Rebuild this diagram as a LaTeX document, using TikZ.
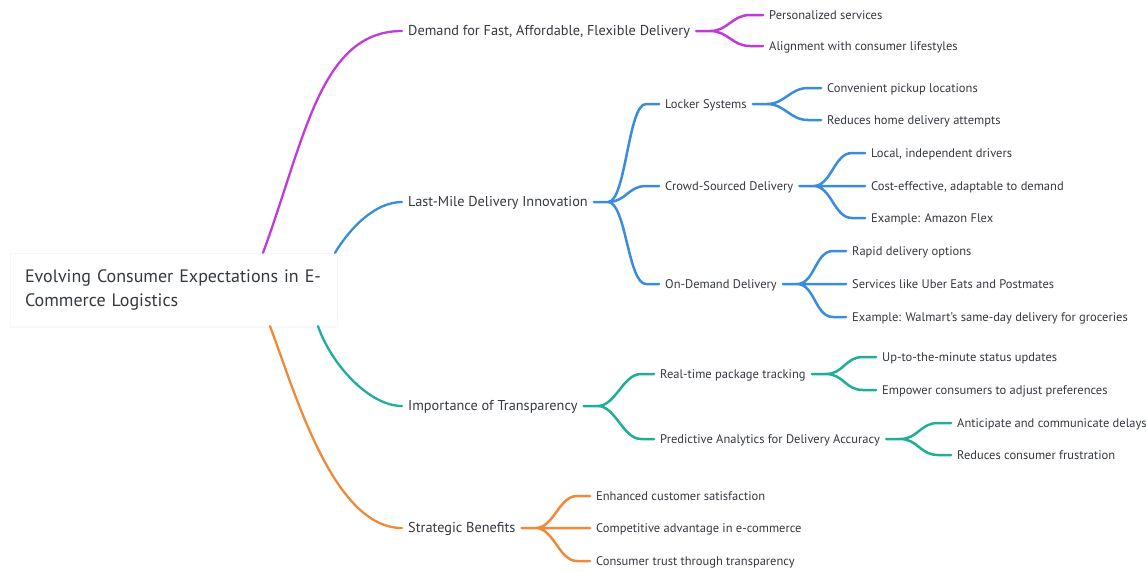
\documentclass[tikz,border=0pt]{standalone}
\usepackage{fontspec}
\setmainfont{PT Sans}
\usepackage{tikz}
\usetikzlibrary{calc,shadows}
\definecolor{mmviolet}{HTML}{C03CDA}
\definecolor{mmblue}{HTML}{3A8CDD}
\definecolor{mmteal}{HTML}{20AE98}
\definecolor{mmorange}{HTML}{EF8A3A}
\definecolor{mmink}{HTML}{353940}

\begin{document}
\begin{tikzpicture}[x=1pt,y=-1pt,
  lvlone/.style={anchor=west,inner xsep=6pt,inner ysep=2pt,text=mmink,
    text height=1em,text depth=0.1em,font=\fontsize{14.3}{17}\selectfont},
  lvltwo/.style={anchor=west,inner xsep=6pt,inner ysep=2pt,text=mmink,
    text height=1em,text depth=0.1em,font=\fontsize{12.5}{15}\selectfont},
  rootlink/.style={line width=2.3pt,line cap=round},
  mmlink/.style={line width=2.5pt,line cap=round,
    to path={-- ++(14,0) .. controls +(18,0) and ($(\tikztotarget)+(-31,0)$)
      .. ($(\tikztotarget)+(-13,0)$) -- (\tikztotarget)}}]
\useasboundingbox (0,0) rectangle (1146,571);
\fill[white] (0,0) rectangle (1146,571);

\node[fill=white,draw=black!3,drop shadow={shadow xshift=0pt,shadow yshift=-2pt,opacity=0.05},
      text width=297pt,inner xsep=15pt,inner ysep=0pt,minimum height=73pt,
      align=left,text=mmink,font=\fontsize{18}{24}\selectfont] (root) at (173.5,289.5)
  {Evolving Consumer Expectations in E-\\Commerce Logistics};

\node[lvlone] (dem) at (402,31) {Demand for Fast, Affordable, Flexible Delivery};
\node[lvlone] (lmd) at (402,202) {Last-Mile Delivery Innovation};
\node[lvlone] (imp) at (402,406) {Importance of Transparency};
\node[lvlone] (sb) at (402,528) {Strategic Benefits};

\node[lvltwo] (ps) at (763,15) {Personalized services};
\node[lvltwo] (al) at (763,46) {Alignment with consumer lifestyles};

\node[lvltwo] (lk) at (659,104) {Locker Systems};
\node[lvltwo] (cp) at (821,88) {Convenient pickup locations};
\node[lvltwo] (rh) at (821,120) {Reduces home delivery attempts};
\node[lvltwo] (cs) at (659,186) {Crowd-Sourced Delivery};
\node[lvltwo] (li) at (865,153) {Local, independent drivers};
\node[lvltwo] (ce) at (865,186) {Cost-effective, adaptable to demand};
\node[lvltwo] (af) at (865,218) {Example: Amazon Flex};
\node[lvltwo] (od) at (659,284) {On-Demand Delivery};
\node[lvltwo] (rd) at (846,251) {Rapid delivery options};
\node[lvltwo] (ue) at (846,284) {Services like Uber Eats and Postmates};
\node[lvltwo] (wm) at (846,317) {Example: Walmart's same-day delivery for groceries};

\node[lvltwo] (rt) at (654,374) {Real-time package tracking};
\node[lvltwo] (ut) at (876,357) {Up-to-the-minute status updates};
\node[lvltwo] (ep) at (876,390) {Empower consumers to adjust preferences};
\node[lvltwo] (pa) at (654,439) {Predictive Analytics for Delivery Accuracy};
\node[lvltwo] (ac) at (951,423) {Anticipate and communicate delays};
\node[lvltwo] (rf) at (951,455) {Reduces consumer frustration};

\node[lvltwo] (ec) at (590,496) {Enhanced customer satisfaction};
\node[lvltwo] (ca) at (590,528) {Competitive advantage in e-commerce};
\node[lvltwo] (ct) at (590,561) {Consumer trust through transparency};

\draw[rootlink,mmviolet] (root.north -| 263,0) .. controls (305,139) and (320,31) .. (dem.west);
\draw[rootlink,mmblue] (root.north -| 335,0) .. controls (350,228) and (375,202) .. (lmd.west);
\draw[rootlink,mmteal] (root.south -| 318,0) .. controls (332,366) and (370,406) .. (imp.west);
\draw[rootlink,mmorange] (root.south -| 270,0) .. controls (295,392) and (333,528) .. (sb.west);

\draw[mmlink,mmviolet] (dem.east) to (ps.west) (dem.east) to (al.west);
\draw[mmlink,mmblue] (lmd.east) to (lk.west) (lmd.east) to (cs.west) (lmd.east) to (od.west);
\draw[mmlink,mmblue] (lk.east) to (cp.west) (lk.east) to (rh.west);
\draw[mmlink,mmblue] (cs.east) to (li.west) (cs.east) to (ce.west) (cs.east) to (af.west);
\draw[mmlink,mmblue] (od.east) to (rd.west) (od.east) to (ue.west) (od.east) to (wm.west);
\draw[mmlink,mmteal] (imp.east) to (rt.west) (imp.east) to (pa.west);
\draw[mmlink,mmteal] (rt.east) to (ut.west) (rt.east) to (ep.west);
\draw[mmlink,mmteal] (pa.east) to (ac.west) (pa.east) to (rf.west);
\draw[mmlink,mmorange] (sb.east) to (ec.west) (sb.east) to (ca.west) (sb.east) to (ct.west);
\end{tikzpicture}
\end{document}
